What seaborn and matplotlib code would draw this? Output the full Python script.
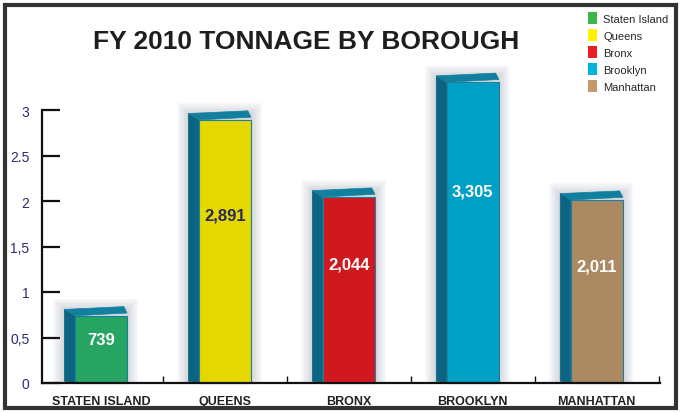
import matplotlib
matplotlib.use("Agg")
import matplotlib.pyplot as plt
import seaborn as sns
import pandas as pd
from matplotlib.patches import Polygon, Rectangle

# ---- data ----
boroughs = ["Staten Island", "Queens", "Bronx", "Brooklyn", "Manhattan"]
tick_labels = ["STATEN ISLAND", "QUEENS", "BRONX", "BROOKLYN", "MANHATTAN"]
tonnage = [739, 2891, 2044, 3305, 2011]
value_labels = ["739", "2,891", "2,044", "3,305", "2,011"]
colors = ["#25a462", "#e5d800", "#d0181f", "#00a0c6", "#ab8962"]
legend_colors = ["#3cb64a", "#fff200", "#ed1c24", "#00b4dc", "#c29a6b"]
label_colors = ["white", "#2a2a5e", "white", "white", "white"]
y_ticks = [0, 0.5, 1, 1.5, 2, 2.5, 3]
y_tick_labels = ["0", "0,5", "1", "1,5", "2", "2.5", "3"]
title = "FY 2010 TONNAGE BY BOROUGH"

df = pd.DataFrame({"borough": boroughs, "thousands": [t / 1000 for t in tonnage]})

sns.set_theme(style="white")
plt.rcParams["font.family"] = ["Liberation Sans", "DejaVu Sans"]

fig = plt.figure(figsize=(6.81, 4.14), dpi=100)
fig.patch.set_facecolor("white")
ax = fig.add_axes([42 / 681, 30 / 414, 618 / 681, 273 / 414])

bw = 0.42
sns.barplot(data=df, x="borough", y="thousands", hue="borough",
            palette=colors, width=bw, dodge=False, legend=False, ax=ax,
            saturation=1, edgecolor="#1a7f9c", linewidth=0.8, zorder=3)

ax.set_xlim(-0.476, 4.51)
ax.set_ylim(0, 3)

side_col = "#0b6582"
top_col = "#137f9f"
d = 0.085      # depth in x units
dy = 0.07      # depth in y units
px_x = 1 / 124.0   # x data units per pixel
px_y = 1 / 91.0    # y data units per pixel
bars = list(ax.patches)
for p in bars:
    p.set_clip_on(False)
    x0 = p.get_x()
    w = p.get_width()
    h = p.get_height()
    # soft shadow glow
    for k in range(7):
        g = 1.6 * (k + 1)
        ax.add_patch(Rectangle((x0 - d - g * px_x, -0.005), w + d + 2 * g * px_x,
                               h + dy + g * px_y, facecolor="#4f6577",
                               edgecolor="none", alpha=0.035, zorder=1, clip_on=False))
    side = Polygon([(x0, 0), (x0 - d, 0.02), (x0 - d, h + dy), (x0, h)],
                   closed=True, facecolor=side_col, edgecolor=side_col,
                   lw=0.5, zorder=2, clip_on=False)
    top = Polygon([(x0, h), (x0 - d, h + dy), (x0 + w - d * 0.3, h + dy + 0.03),
                   (x0 + w, h + 0.03)],
                  closed=True, facecolor=top_col, edgecolor=top_col,
                  lw=0.5, zorder=2, clip_on=False)
    ax.add_patch(side)
    ax.add_patch(top)

for i, (h, lab, c) in enumerate(zip(df["thousands"], value_labels, label_colors)):
    ax.text(i, h * 0.64, lab, ha="center", va="center", color=c,
            fontsize=12, fontweight="bold", zorder=5)

# axes styling
for s in ["top", "right"]:
    ax.spines[s].set_visible(False)
for s in ["left", "bottom"]:
    ax.spines[s].set_color("#111111")
    ax.spines[s].set_linewidth(1.6)
    ax.spines[s].set_zorder(6)
ax.set_yticks(y_ticks)
ax.set_yticklabels(y_tick_labels, color="#2d2b6e", fontsize=10)
ax.tick_params(axis="y", left=True, direction="in", length=13, width=1.6,
               color="#111111", pad=9)
ax.set_xticks(range(len(tick_labels)))
ax.set_xticklabels(tick_labels, fontsize=9, fontweight="bold", color="#222222")
ax.tick_params(axis="x", which="major", bottom=True, length=0, pad=9)
ax.set_xticks([0.5, 1.5, 2.5, 3.5, 4.5], minor=True)
ax.tick_params(axis="x", which="minor", bottom=True, direction="in", length=5,
               width=1, color="#111111")
ax.set_xlabel("")
ax.set_ylabel("")
ax.set_facecolor("none")

fig.text(306 / 681, 1 - 42 / 414, title, ha="center", va="center",
         fontsize=19, fontweight="bold", color="#1e1e1e")

handles = [Rectangle((0, 0), 1, 1, facecolor=c, edgecolor="none") for c in legend_colors]
leg = fig.legend(handles, boroughs, loc="upper left", bbox_to_anchor=(584 / 681, 1 - 9 / 414),
                 frameon=False, fontsize=8, handlelength=0.8, handleheight=1.2,
                 handletextpad=0.55, labelspacing=0.5, borderaxespad=0)

fig.add_artist(Rectangle((5 / 681, 5 / 414), 671 / 681, 403 / 414, transform=fig.transFigure,
                         fill=False, edgecolor="#333333", linewidth=3))

fig.savefig("out.png", dpi=100)
